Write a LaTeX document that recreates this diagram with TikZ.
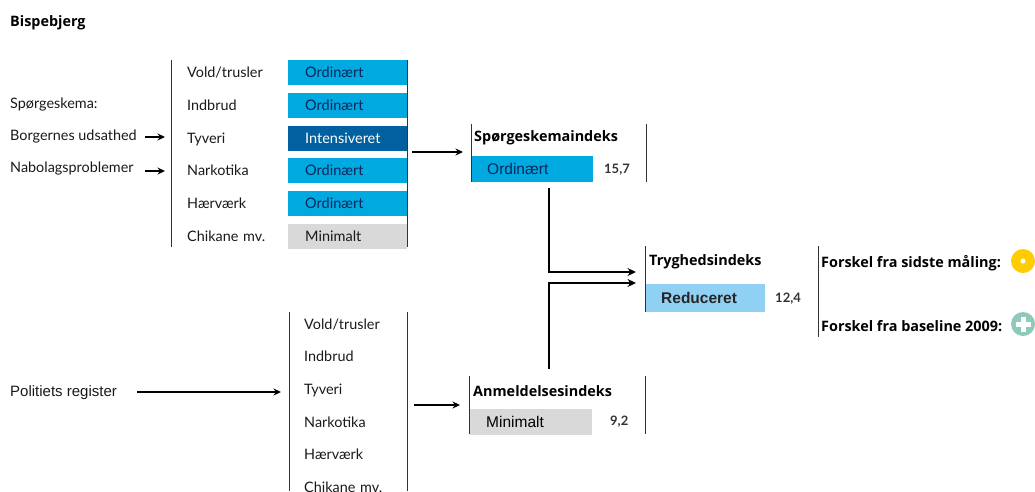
\documentclass[tikz,border=0pt]{standalone}
\usepackage{fontspec}
\setmainfont{Lato}
\newfontfamily\arialfont{Liberation Sans}
\newfontfamily\headfont{Open Sans}
\usepackage{tikz}
\usetikzlibrary{arrows.meta,positioning}
\definecolor{myblue}{RGB}{0,169,224}
\definecolor{mydarkblue}{RGB}{0,96,160}
\definecolor{mylightblue}{RGB}{143,208,243}
\definecolor{mygray}{RGB}{217,217,217}
\definecolor{myink}{RGB}{10,40,90}
\definecolor{myyellow}{RGB}{255,204,0}
\definecolor{myteal}{RGB}{143,201,188}

\begin{document}
\begin{tikzpicture}[
    x=1pt, y=-1pt,
    sidenote/.style={inner sep=0pt, anchor=west, font=\fontsize{14.4}{15}\selectfont, text=black!90},
    item/.style={rectangle, inner sep=0pt, text width=95pt, align=left, minimum height=25pt, text height=12pt, text depth=2pt, font=\fontsize{14.4}{15}\selectfont, text=black!90},
    rating/.style={rectangle, fill=myblue, inner xsep=17pt, inner ysep=0pt, text width=85pt, align=left, minimum height=25pt, text height=12pt, text depth=2pt, font=\fontsize{14.5}{15}\selectfont, text=myink},
    indexname/.style={inner sep=0pt, anchor=west, font=\headfont\fontsize{14.4}{15}\selectfont\bfseries, text=black},
    indexbox/.style={rectangle, anchor=north west, inner xsep=16pt, inner ysep=0pt, text width=90pt, align=left, minimum height=26pt, font=\arialfont\fontsize{15.5}{15}\selectfont},
    score/.style={inner sep=0pt, anchor=west, font=\fontsize{13}{15}\selectfont\bfseries, text=black!80},
    rule/.style={line width=0.8pt, black!80},
    arrow/.style={-{Stealth[length=7.5pt,width=7pt]}, line width=1.2pt},
    link/.style={-{Stealth[length=8.5pt,width=8pt]}, line width=1.5pt},
    badge/.style={circle, minimum size=24pt, inner sep=0pt}
]
\useasboundingbox (0,0) rectangle (1035,491);

% Title
\node[indexname] (title) at (10,23) {Bispebjerg};

% Survey sources
\node[sidenote] (survey) at (10,105) {Spørgeskema:};
\node[sidenote] (exposure) at (10,137) {Borgernes udsathed};
\node[sidenote] (problems) at (10,169) {Nabolagsproblemer};
\coordinate (exposure-start) at (145,137);
\coordinate (exposure-end) at (165,137);
\coordinate (problems-start) at (145,171);
\coordinate (problems-end) at (165,171);

% Survey list
\node[item, anchor=north west] (survey-item1) at (187,60) {Vold/trusler};
\node[item, below=7.3pt of survey-item1] (survey-item2) {Indbrud};
\node[item, below=7.3pt of survey-item2] (survey-item3) {Tyveri};
\node[item, below=7.3pt of survey-item3] (survey-item4) {Narkotika};
\node[item, below=7.3pt of survey-item4] (survey-item5) {Hærværk};
\node[item, below=7.3pt of survey-item5] (survey-item6) {Chikane mv.};

% Survey ratings
\node[rating, anchor=north west] (survey-rate1) at (288,60) {Ordinært};
\node[rating, below=7.3pt of survey-rate1] (survey-rate2) {Ordinært};
\node[rating, below=7.3pt of survey-rate2, fill=mydarkblue, text=white] (survey-rate3) {Intensiveret};
\node[rating, below=7.3pt of survey-rate3] (survey-rate4) {Ordinært};
\node[rating, below=7.3pt of survey-rate4] (survey-rate5) {Ordinært};
\node[rating, below=7.3pt of survey-rate5, fill=mygray, text=black!90] (survey-rate6) {Minimalt};

% Survey index
\node[indexname] (survey-index) at (474,138) {Spørgeskemaindeks};
\node[indexbox, fill=myblue, text=myink] (survey-box) at (471,156) {Ordinært};
\node[score] (survey-score) at (604,170) {15,7};

% Police list
\node[sidenote, font=\arialfont\fontsize{15}{15}\selectfont] (police) at (10,393) {Politiets register};
\node[item, anchor=north west] (police-item1) at (304,311.5) {Vold/trusler};
\node[item, below=7.2pt of police-item1] (police-item2) {Indbrud};
\node[item, below=7.2pt of police-item2] (police-item3) {Tyveri};
\node[item, below=7.2pt of police-item3] (police-item4) {Narkotika};
\node[item, below=7.2pt of police-item4] (police-item5) {Hærværk};
\node[item, below=14.5pt of police-item5, minimum height=10pt, text height=10pt, text depth=0pt] (police-item6) {Chikane mv.};

% Report index
\node[indexname] (report-index) at (473,391) {Anmeldelsesindeks};
\node[indexbox, fill=mygray] (report-box) at (470,409) {Minimalt};
\node[score] (report-score) at (610,422) {9,2};

% Safety index
\node[indexname] (safety-index) at (649,262) {Tryghedsindeks};
\node[indexbox, fill=mylightblue, font=\arialfont\fontsize{15.5}{15}\selectfont\bfseries, text=black!85, text width=88pt, minimum height=28pt] (safety-box) at (645,284) {Reduceret};
\node[score] (safety-score) at (775,299) {12,4};

% Differences
\node[indexname] (last-diff) at (821,263) {Forskel fra sidste måling:};
\node[indexname] (base-diff) at (821,326) {Forskel fra baseline 2009:};
\node[badge, fill=myyellow] (last-badge) at (1023,261) {};
\node[circle, fill=white, minimum size=5pt, inner sep=0pt] (last-dot) at (last-badge) {};
\node[badge, fill=myteal] (base-badge) at (1023,324) {};
\node[fill=white, minimum width=15pt, minimum height=5pt, inner sep=0pt] (base-bar) at (base-badge) {};
\node[fill=white, minimum width=5pt, minimum height=15pt, inner sep=0pt] (base-post) at (base-badge) {};

% Rules
\draw[rule] (171,60) -- (171,247);
\draw[rule] (407,60) -- (407,247);
\draw[rule] (289,312) -- (289,491);
\draw[rule] (407,312) -- (407,491);
\draw[rule] (471,124) -- (471,182);
\draw[rule] (646,124) -- (646,182);
\draw[rule] (469,376) -- (469,434);
\draw[rule] (645,376) -- (645,434);
\draw[rule] (645,246) -- (645,312);
\draw[rule] (818,246) -- (818,337);

% Free arrow ends
\coordinate (list-out) at (412,152);
\coordinate (list-in) at (463,152);
\coordinate (police-start) at (137,392);
\coordinate (police-end) at (281,392);
\coordinate (police-out) at (414,405);
\coordinate (police-in) at (460,405);
\coordinate (survey-down) at (549,188);
\coordinate (safety-in1) at (636,272);
\coordinate (report-up) at (549,369);
\coordinate (safety-in2) at (636,283);

% Arrows
\draw[arrow] (exposure-start) -- (exposure-end);
\draw[arrow] (problems-start) -- (problems-end);
\draw[arrow] (list-out) -- (list-in);
\draw[arrow] (police-start) -- (police-end);
\draw[arrow] (police-out) -- (police-in);
\draw[link] (survey-down) |- (safety-in1);
\draw[link] (report-up) |- (safety-in2);

\end{tikzpicture}
\end{document}
